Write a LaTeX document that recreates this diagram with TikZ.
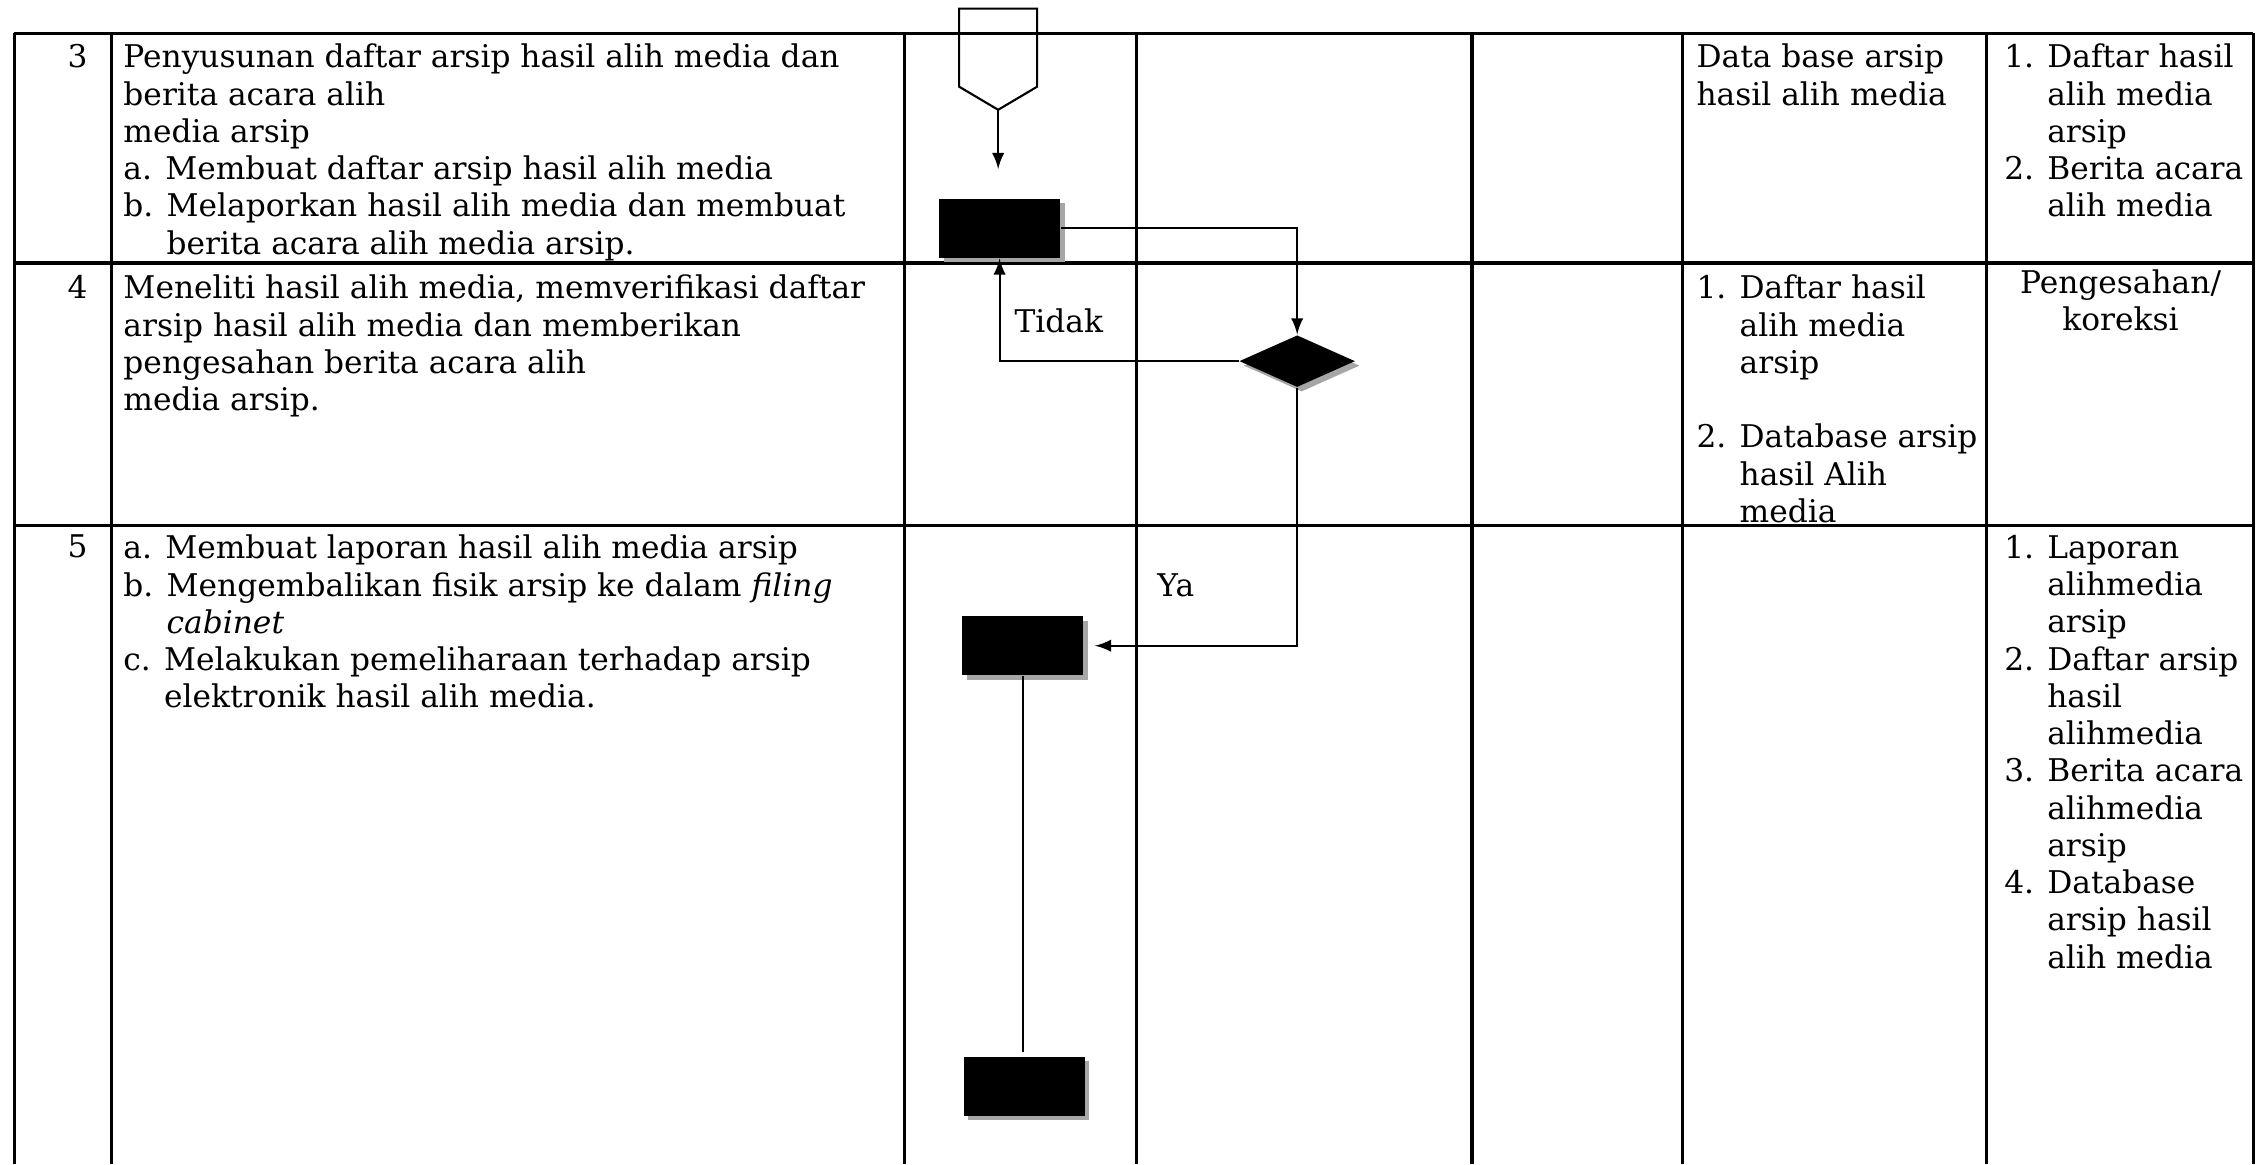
\documentclass[tikz,border=0pt]{standalone}
\usepackage{fontspec}
\setmainfont{DejaVu Serif}
\usetikzlibrary{shapes.geometric,shadows}

\tikzset{
	tbl/.style={line width=0.9pt},
	flow/.style={line width=0.6pt},
	txt/.style={anchor=north west, align=left, inner sep=0pt},
	num/.style={anchor=north east, inner sep=0pt},
	shade/.style={drop shadow={shadow xshift=0.45mm, shadow yshift=-0.45mm, fill=black!35, opacity=1}},
	proc/.style={rectangle, fill=black, minimum width=12.1mm, minimum height=5.9mm, inner sep=0pt, shade},
	decide/.style={diamond, fill=black, minimum width=11.6mm, minimum height=5.2mm, inner sep=0pt, shade}
}

\begin{document}
\begin{tikzpicture}[x=0.1445mm, y=-0.1445mm, >=latex, font=\fontsize{8.9}{10.6}\selectfont]
		\useasboundingbox (0,0) rectangle (1568,806);
		
		\foreach \y in {23,182,364} {
			\draw[tbl] (10,\y) -- (1560,\y);
		}
		\foreach \x in {10,77,626,787,1019,1165,1375,1560} {
			\draw[tbl] (\x,23) -- (\x,806);
		}
		
		\node[num] (n3) at (61,30) {3};
		\node[num] (n4) at (61,190) {4};
		\node[num] (n5) at (61,370) {5};
		
		\node[txt] (ket3) at (85,30) {Penyusunan daftar arsip hasil alih media dan\\berita acara alih\\media arsip\\a. Membuat daftar arsip hasil alih media\\b. Melaporkan hasil alih media dan membuat\\\hphantom{b. }berita acara alih media arsip.};
		\node[txt] (ket4) at (85,190) {Meneliti hasil alih media, memverifikasi daftar\\arsip hasil alih media dan memberikan\\pengesahan berita acara alih\\media arsip.};
		\node[txt] (ket5) at (85,370) {a. Membuat laporan hasil alih media arsip\\b. Mengembalikan fisik arsip ke dalam \textit{filing}\\\hphantom{b. }\textit{cabinet}\\c. Melakukan pemeliharaan terhadap arsip\\\hphantom{c. }elektronik hasil alih media.};
		
		\node[txt] (db3) at (1174,30) {Data base arsip\\hasil alih media};
		\node[txt] (db4) at (1174,190) {1. Daftar hasil\\\hphantom{1. }alih media\\\hphantom{1. }arsip\\ \\2. Database arsip\\\hphantom{2. }hasil Alih\\\hphantom{2. }media};
		
		\node[txt] (out3) at (1387,30) {1. Daftar hasil\\\hphantom{1. }alih media\\\hphantom{1. }arsip\\2. Berita acara\\\hphantom{2. }alih media};
		\node[anchor=north, align=center, inner sep=0pt] (out4) at (1468,186) {Pengesahan/\\koreksi};
		\node[txt] (out5) at (1387,370) {1. Laporan\\\hphantom{1. }alihmedia\\\hphantom{1. }arsip\\2. Daftar arsip\\\hphantom{2. }hasil\\\hphantom{2. }alihmedia\\3. Berita acara\\\hphantom{3. }alihmedia\\\hphantom{3. }arsip\\4. Database\\\hphantom{4. }arsip hasil\\\hphantom{4. }alih media};
		
		% bagan alir
		\draw[flow] (664,6) -- (718,6) -- (718,60) -- (691,76) -- (664,60) -- cycle;
		\coordinate (op) at (691,76);
		\coordinate (op end) at (691,117);
		\draw[flow,->] (op) -- (op end);
		
		\node[proc] (p1) at (692,158) {};
		\node[decide] (d1) at (898,250) {};
		\node[proc] (p2) at (708,447) {};
		\node[proc] (p3) at (709,752) {};
		
		\draw[flow,->] (p1.east) -| (d1.north);
		\draw[flow,->] (d1.west) -| (p1.south);
		\draw[flow,->,shorten >=1.1mm] (d1.south) |- (p2.east);
		\draw[flow,shorten >=0.4mm] (p2.south) -- (p2.south |- p3.north);
		
		\node (tidak) at (733,222) {Tidak};
		\node (ya) at (814,405) {Ya};
		
	\end{tikzpicture}
\end{document}
